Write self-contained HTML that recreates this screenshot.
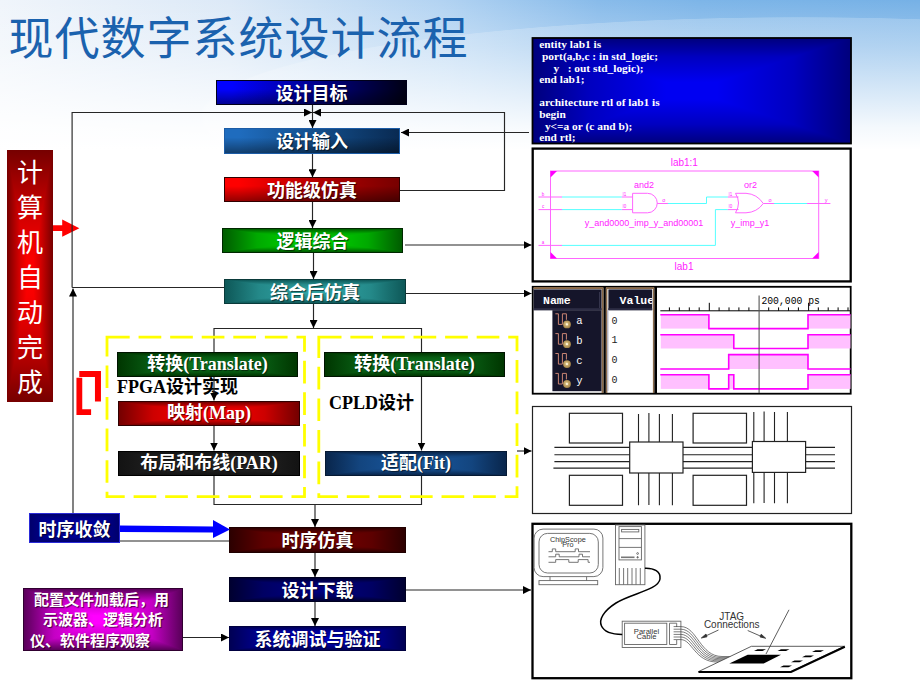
<!DOCTYPE html>
<html lang="zh">
<head>
<meta charset="utf-8">
<title>现代数字系统设计流程</title>
<style>
html,body{margin:0;padding:0}
body{width:920px;height:690px;position:relative;overflow:hidden;background:#fff;
 font-family:"Liberation Sans","Noto Sans CJK SC",sans-serif}
#bg{position:absolute;left:0;top:0;width:920px;height:150px;
 background:
  linear-gradient(to bottom,rgba(255,255,255,0) 0%,rgba(255,255,255,.28) 30%,rgba(255,255,255,.62) 60%,rgba(255,255,255,.9) 85%,#fff 100%),
  radial-gradient(ellipse 600px 100px at 800px 117px,rgba(255,255,255,.2) 0%,rgba(255,255,255,.2) 99.4%,rgba(255,255,255,0) 100%),
  linear-gradient(to right,#f0f5fb 0%,#dce9f7 25%,#b2d3f2 48%,#88bbea 65%,#7db5e8 76%,#76b1e6 100%);}
#bg2{position:absolute;left:0;top:0;width:920px;height:160px;overflow:hidden}
.title{position:absolute;left:8.5px;top:6px;font-size:45px;letter-spacing:1px;line-height:68px;color:#1b62ae;white-space:nowrap;
 font-family:"Liberation Sans","Noto Sans CJK SC",sans-serif;font-weight:400}
.bx{position:absolute;box-sizing:border-box;color:#fff;font-weight:700;font-size:18px;text-align:center;
 white-space:nowrap;text-shadow:1px 1px 1px rgba(0,0,0,.6);border:1px solid #000;overflow:hidden}
.pc{background:linear-gradient(to right,var(--a) 0%,var(--m) 19%,var(--b) 44%,var(--b) 56%,var(--m) 81%,var(--a) 100%)}
.pc::before{content:"";position:absolute;left:0;top:0;right:0;bottom:0;background:linear-gradient(to bottom,var(--a) 0%,var(--m) 19%,var(--b) 44%,var(--b) 56%,var(--m) 81%,var(--a) 100%);clip-path:polygon(0 0,100% 0,50% 50%,100% 100%,0 100%,50% 50%)}
.pk{background:linear-gradient(to right,var(--b) 0%,var(--b) 8%,var(--m) 50%,var(--a) 100%)}
.pk::before{content:"";position:absolute;left:0;top:0;right:0;bottom:0;background:linear-gradient(to bottom,rgba(0,0,0,0) 0%,rgba(0,0,0,0) 35%,rgba(0,0,0,.42) 100%)}
.bx span{position:relative;display:block;top:2px}
.bx.ser span{top:0}
.ser{font-family:"Liberation Serif","Noto Sans CJK SC",serif}
.lbl{position:absolute;color:#000;font-weight:700;font-size:18px;white-space:nowrap;
 font-family:"Liberation Serif","Noto Sans CJK SC",serif}
svg{position:absolute;left:0;top:0}
</style>
</head>
<body>
<div id="bg"></div>
<div class="title">现代数字系统设计流程</div>

<!-- main flow boxes -->
<div class="bx pk" style="left:216px;top:80px;width:191px;height:25px;line-height:22px;border-color:#00001a;--b:#0202ff;--m:#000092;--a:#000014"><span>设计目标</span></div>
<div class="bx pk" style="left:224px;top:128px;width:176px;height:26px;line-height:23px;border-color:#1c5ca6;--b:#1f6cbe;--m:#14508e;--a:#092a52"><span>设计输入</span></div>
<div class="bx pk" style="left:224px;top:177px;width:176px;height:25px;line-height:22px;border-color:#300000;--b:#ff0000;--m:#b80000;--a:#780000"><span>功能级仿真</span></div>
<div class="bx pc" style="left:222px;top:228px;width:181px;height:25px;line-height:22px;border-color:#002800;--b:#00d400;--m:#00a900;--a:#005c00"><span>逻辑综合</span></div>
<div class="bx pc" style="left:224px;top:279px;width:182px;height:25px;line-height:22px;border-color:#0a3a3a;--b:#30a4a4;--m:#248989;--a:#0e5858"><span>综合后仿真</span></div>
<div class="bx pc" style="left:229px;top:527px;width:177px;height:26px;line-height:23px;border-color:#200000;--b:#780000;--m:#5d0000;--a:#2c0000"><span>时序仿真</span></div>
<div class="bx pc" style="left:229px;top:577px;width:177px;height:25px;line-height:22px;border-color:#000020;--b:#000080;--m:#000063;--a:#000030"><span>设计下载</span></div>
<div class="bx pc" style="left:229px;top:626px;width:177px;height:25px;line-height:22px;border-color:#000040;--b:#0000bc;--m:#000097;--a:#000054"><span>系统调试与验证</span></div>

<!-- FPGA / CPLD columns -->
<div class="bx ser pc" style="left:117px;top:352px;width:181px;height:25px;line-height:23px;border-color:#001400;--b:#0c721e;--m:#085c13;--a:#003600"><span>转换(Translate)</span></div>
<div class="bx ser pc" style="left:118px;top:401px;width:182px;height:25px;line-height:23px;border-color:#300000;--b:#ff0000;--m:#cd0000;--a:#740000"><span>映射(Map)</span></div>
<div class="bx ser pc" style="left:118px;top:451px;width:182px;height:25px;line-height:23px;border-color:#000;--b:#262626;--m:#1f1f1f;--a:#131313"><span>布局和布线(PAR)</span></div>
<div class="bx ser pc" style="left:324px;top:352px;width:181px;height:25px;line-height:23px;border-color:#001400;--b:#0c721e;--m:#085c13;--a:#003600"><span>转换(Translate)</span></div>
<div class="bx ser pc" style="left:325px;top:451px;width:182px;height:25px;line-height:23px;border-color:#061a34;--b:#18569c;--m:#13457f;--a:#09264c"><span>适配(Fit)</span></div>

<div class="lbl" style="left:117px;top:375px;line-height:24px">FPGA设计实现</div>
<div class="lbl" style="left:329px;top:391px;line-height:24px">CPLD设计</div>

<!-- left red vertical box -->
<div style="position:absolute;left:7px;top:150px;width:46px;height:252px;
 background:linear-gradient(to right,#760000 0%,#960000 9%,#d40000 27%,#f80000 42%,#ff0000 50%,#f80000 58%,#d40000 73%,#960000 91%,#760000 100%)"></div>
<div style="position:absolute;left:7px;top:150px;width:46px;height:252px;
 clip-path:polygon(0 0,100% 0,50% 50%,100% 100%,0 100%,50% 50%);
 background:linear-gradient(to bottom,#760000 0%,#960000 9%,#d40000 27%,#f80000 42%,#ff0000 50%,#f80000 58%,#d40000 73%,#960000 91%,#760000 100%)"></div>
<div style="position:absolute;left:7px;top:150px;width:46px;height:252px;
 color:#fff;font-size:26px;line-height:35px;text-align:center;font-weight:400;padding-top:6px;box-sizing:border-box">计<br>算<br>机<br>自<br>动<br>完<br>成</div>

<!-- 时序收敛 -->
<div class="bx pc" style="left:29px;top:513px;width:91px;height:30px;line-height:28px;border:1.5px solid #2a2ad8;--b:#0000a4;--m:#000090;--a:#00006c"><span>时序收敛</span></div>

<!-- purple note -->
<div class="bx pc" style="left:23px;top:588px;width:160px;height:63px;border-color:#300030;font-size:15px;line-height:20.5px;--b:#ff00ff;--m:#c400c4;--a:#5a005a">
 <span style="position:absolute;left:10px;top:1px">配置文件加载后，用</span>
 <span style="position:absolute;left:19px;top:21px">示波器、逻辑分析</span>
 <span style="position:absolute;left:6px;top:42px">仪、软件程序观察</span>
</div>

<!--LINES-START-->
<svg width="920" height="690" viewBox="0 0 920 690" style="z-index:1">
<defs>
 <marker id="ah" viewBox="0 0 8 8" refX="8" refY="4" markerWidth="8" markerHeight="8" markerUnits="userSpaceOnUse" orient="auto"><path d="M0,0 L8,4 L0,8 Z" fill="#000"/></marker>
</defs>
<!-- red arrow -->
<path d="M53,225.3 H62.2 V219.6 L79.4,228.2 L62.2,236.8 V231 H53 Z" fill="#ff0000"/>
<g fill="none" stroke="#262626" stroke-width="1.15">
 <!-- left feedback loop -->
 <path d="M72.1,287.5 V112.5 H312" marker-end="url(#ah)"/>
 <path d="M72.1,287.5 H224"/>
 <path d="M73,513 V288.5" marker-end="url(#ah)"/>
 <!-- right feedback loop -->
 <path d="M400,190.5 H504.5 V112.5 H313" marker-end="url(#ah)"/>
 <!-- centre chain -->
 <path d="M312.5,105 V128" marker-end="url(#ah)"/>
 <path d="M312.5,154 V177.3" marker-end="url(#ah)"/>
 <path d="M312.5,202 V228" marker-end="url(#ah)"/>
 <path d="M313.5,253 V279" marker-end="url(#ah)"/>
 <path d="M313.5,304 V328" marker-end="url(#ah)"/>
 <path d="M214,352 V328.5 H421.5 V352"/>
 <path d="M421.5,377 V450.5" marker-end="url(#ah)"/>
 <path d="M214,377 V400.5" marker-end="url(#ah)"/>
 <path d="M214,426 V450.5" marker-end="url(#ah)"/>
 <path d="M214,476 V504.5 H421.5 V476"/>
 <path d="M315,504.5 V527" marker-end="url(#ah)"/>
 <path d="M315,553 V577" marker-end="url(#ah)"/>
 <path d="M315,602 V626" marker-end="url(#ah)"/>
 <!-- to/from right panels -->
 <path d="M529,132.5 H401" marker-end="url(#ah)"/>
 <path d="M405,245 H531.5" marker-end="url(#ah)"/>
 <path d="M406,293.5 H531.5" marker-end="url(#ah)"/>
 <path d="M517,451 H531.5" marker-end="url(#ah)"/>
 <path d="M406,590 H531" marker-end="url(#ah)"/>
 <path d="M183,637.5 H229" marker-end="url(#ah)"/>
 <path d="M229,541 H120"/>
</g>
<!-- yellow dashed groups -->
<g fill="none" stroke="#ffff00" stroke-width="2.8" stroke-dasharray="22.7 8.875">
 <rect x="107" y="337.2" width="197.5" height="159.5"/>
 <rect x="318.8" y="337.2" width="198.2" height="159.5"/>
</g>
<!-- blue arrow -->
<path d="M120,525.5 L213,526.5 L213,520 L230,529.5 L213,538 L213,532.5 L120,532 Z" fill="#0000ff"/>
<!-- red bracket -->
<path d="M79.35,377.8 V412.05 H91.1" fill="none" stroke="#ff0000" stroke-width="5.8"/>
<path d="M79.3,374 H97.95 V401.6" fill="none" stroke="#ff0000" stroke-width="6"/>
</svg>
<!--LINES-END-->
<!--PANELS-START-->
<svg width="920" height="690" viewBox="0 0 920 690" style="z-index:2">
<defs>
 <linearGradient id="gch" x1="0" x2="1" y1="0" y2="0"><stop offset="0" stop-color="#00007c"/><stop offset="0.18" stop-color="#0000c0"/><stop offset="0.42" stop-color="#0000f2"/><stop offset="0.58" stop-color="#0000f2"/><stop offset="0.82" stop-color="#0000c0"/><stop offset="1" stop-color="#00007c"/></linearGradient>
 <linearGradient id="gcv" x1="0" x2="0" y1="0" y2="1"><stop offset="0" stop-color="#00007c"/><stop offset="0.18" stop-color="#0000c0"/><stop offset="0.42" stop-color="#0000f2"/><stop offset="0.58" stop-color="#0000f2"/><stop offset="0.82" stop-color="#0000c0"/><stop offset="1" stop-color="#00007c"/></linearGradient>
</defs>
<!-- ===== VHDL code box ===== -->
<rect x="532.5" y="38" width="318.5" height="105.5" fill="url(#gch)"/>
<path d="M532.5,38 H851 L691.75,90.75 Z M532.5,143.5 H851 L691.75,90.75 Z" fill="url(#gcv)"/>
<rect x="532.5" y="38" width="318.5" height="105.5" fill="none" stroke="#000" stroke-width="1.8"/>
<g font-family="'Liberation Serif',serif" font-weight="700" font-size="11.4" fill="#fff" xml:space="preserve">
 <text x="539.2" y="48.4">entity lab1 is</text>
 <text x="539.2" y="60">&#160;port(a,b,c : in std_logic;</text>
 <text x="539.2" y="71.6">&#160;&#160;&#160;&#160;&#160;y&#160;&#160; : out std_logic);</text>
 <text x="539.2" y="83.2">end lab1;</text>
 <text x="539.2" y="106.4">architecture rtl of lab1 is</text>
 <text x="539.2" y="118">begin</text>
 <text x="539.2" y="129.6">&#160;&#160;y&lt;=a or (c and b);</text>
 <text x="539.2" y="141.2">end rtl;</text>
</g>

<!-- ===== schematic ===== -->
<rect x="532.7" y="148.6" width="318" height="132.8" fill="#fff" stroke="#000" stroke-width="2.3"/>
<g fill="none" stroke="#ff66ff" stroke-width="1">
 <rect x="550.5" y="171" width="268.2" height="87.5"/>
 <!-- input stubs -->
 <path d="M538.5,197 H562 M538.5,209.6 H562 M538.5,245.4 H562"/>
 <!-- and gate -->
 <path d="M621.7,197 H632.6 M621.7,209.6 H632.6"/>
 <path d="M632.6,193.3 H647.5 A9.75,9.75 0 0 1 647.5,212.8 H632.6 Z"/>
 <path d="M657.2,203.5 H668"/>
 <!-- or gate -->
 <path d="M727.8,197 H738.5 M727.8,209.6 H738.5"/>
 <path d="M735.5,193.3 H746 Q757,194 763.3,203.5 Q757,212.3 746,212.8 H735.5 Q741.5,203 735.5,193.3 Z"/>
 <path d="M763.3,203.5 H774 M807,203.5 H830.4"/>
</g>
<g fill="#ff00ff">
 <path d="M550.5,171 h6.5 l-6.5,6.5 z"/>
 <path d="M550.5,258.5 h6.5 l-6.5,-6.5 z"/>
 <path d="M818.7,171 h-6.5 l6.5,6.5 z"/>
 <path d="M818.7,258.5 h-6.5 l6.5,-6.5 z"/>
</g>
<g fill="none" stroke="#55ffff" stroke-width="1">
 <path d="M562,197 H621.7 M562,209.6 H621.7"/>
 <path d="M668,203.5 H706.5 V197 H727.8"/>
 <path d="M562,245.4 H715.4 V209.6 H727.8"/>
 <path d="M774,203.5 H807"/>
</g>
<g font-family="'Liberation Sans',sans-serif" fill="#ff22ff" text-anchor="middle">
 <text x="684.3" y="166.3" font-size="10">lab1:1</text>
 <text x="684" y="270" font-size="10">lab1</text>
 <text x="644" y="188.2" font-size="9">and2</text>
 <text x="750.6" y="188.2" font-size="9">or2</text>
 <text x="644" y="225.5" font-size="9">y_and0000_imp_y_and00001</text>
 <text x="750" y="225.5" font-size="9">y_imp_y1</text>
 <text x="543" y="195.6" font-size="4.5">b</text>
 <text x="543" y="208.2" font-size="4.5">c</text>
 <text x="543" y="244" font-size="4.5">a</text>
 <text x="624.5" y="195.6" font-size="4.5">I1</text>
 <text x="624.5" y="208.2" font-size="4.5">I0</text>
 <text x="730.5" y="195.6" font-size="4.5">I1</text>
 <text x="730.5" y="208.2" font-size="4.5">I0</text>
 <text x="663.7" y="201.5" font-size="5.5">o</text>
 <text x="770" y="201.5" font-size="5.5">o</text>
 <text x="826" y="202" font-size="5.5">y</text>
</g>
<!-- ===== waveform panel ===== -->
<rect x="532.7" y="286.8" width="318" height="106.9" fill="#fff" stroke="#000" stroke-width="1.8"/>
<!-- brown frames -->
<path d="M533.6,288.1 H603.3 M602.6,287.1 V393" stroke="#8a6a4a" stroke-width="2" fill="none"/>
<path d="M606,288.1 H654.3 M606.6,287.1 V393 M653.7,287.1 V393" stroke="#8a6a4a" stroke-width="1.6" fill="none"/>
<rect x="603.6" y="287" width="2.2" height="106.5" fill="#000"/>
<rect x="654.4" y="287" width="2.6" height="106.5" fill="#000"/>
<!-- name panel -->
<rect x="533.6" y="289.4" width="67.9" height="20.8" fill="#15152a"/>
<rect x="533.6" y="308.2" width="67.9" height="2" fill="#2c2c44"/>
<rect x="599.2" y="292" width="0.8" height="16" fill="#3c3c56"/>
<rect x="552.4" y="310.2" width="49.1" height="81" fill="#15152a"/>
<!-- value panel -->
<rect x="608.4" y="289.4" width="43.8" height="20.8" fill="#15152a"/>
<rect x="608.4" y="308.2" width="43.8" height="2" fill="#2c2c44"/>
<rect x="607.4" y="310.2" width="1" height="81" fill="#a8a8c0"/>
<g font-family="'Liberation Mono','Noto Sans Mono CJK SC',monospace" font-size="11.5" fill="#fff">
 <text x="543" y="303.9" font-weight="700">Name</text>
 <clipPath id="cv"><rect x="608.4" y="289.4" width="43.8" height="21"/></clipPath>
 <text x="619.6" y="303.9" font-weight="700" clip-path="url(#cv)">Value</text>
 <text x="576.3" y="324.2" font-size="10.5">a</text>
 <text x="576.3" y="344" font-size="10.5">b</text>
 <text x="576.3" y="364" font-size="10.5">c</text>
 <text x="576.3" y="384" font-size="10.5">y</text>
</g>
<g font-family="'Liberation Mono','Noto Sans Mono CJK SC',monospace" font-size="10" fill="#222">
 <text x="611.6" y="323.6">0</text>
 <text x="611.6" y="343.4">1</text>
 <text x="611.6" y="363.4">0</text>
 <text x="611.6" y="383.4">0</text>
</g>
<!-- icons -->
<defs>
 <radialGradient id="gold" cx="0.45" cy="0.45" r="0.6"><stop offset="0" stop-color="#f4e8b8"/><stop offset="0.35" stop-color="#cdb070"/><stop offset="1" stop-color="#9a7a40"/></radialGradient>
 <g id="wico">
  <path d="M0,0 H3 V10.6 H7 V0 H11 V6" fill="none" stroke="#c98474" stroke-width="1"/>
  <circle cx="11.6" cy="10.6" r="3.9" fill="url(#gold)"/>
  <circle cx="11.6" cy="10.6" r="1.1" fill="#fff6d8"/>
 </g>
</defs>
<use href="#wico" x="555.4" y="313.8"/>
<use href="#wico" x="555.4" y="333.6"/>
<use href="#wico" x="555.4" y="353.5"/>
<use href="#wico" x="555.4" y="373.4"/>
<!-- ruler -->
<g stroke="#000" stroke-width="1" fill="none">
 <path d="M660.3,310.8 H850.5"/>
 <path d="M669.4,307.4 V310.8 M679.3,307.4 V310.8 M689.3,307.4 V310.8 M699.2,307.4 V310.8 M709.3,302.8 V310.8 M719.1,307.4 V310.8 M729,307.4 V310.8 M738.9,307.4 V310.8 M748.9,307.4 V310.8 M768.7,307.4 V310.8 M778.6,307.4 V310.8 M788.5,307.4 V310.8 M798.4,307.4 V310.8 M808.6,302.8 V310.8 M818.3,307.4 V310.8 M828.2,307.4 V310.8 M838.1,307.4 V310.8 M848,307.4 V310.8"/>
</g>
<text x="761.4" y="303.8" font-family="'Liberation Mono',monospace" font-size="10" fill="#000" textLength="58.5" lengthAdjust="spacingAndGlyphs">200,000 ps</text>
<!-- waveforms -->
<g fill="#ffc0ff" stroke="none">
 <rect x="660.8" y="314.7" width="48.1" height="13.9"/><rect x="808" y="314.7" width="42.5" height="13.9"/>
 <rect x="660.8" y="334.8" width="73" height="13.7"/><rect x="808" y="334.8" width="42.5" height="13.7"/>
 <rect x="728.7" y="354.6" width="79.3" height="14.4"/>
 <rect x="660.8" y="374.7" width="48.1" height="14.2"/><rect x="728.7" y="374.7" width="5.1" height="14.2"/><rect x="808" y="374.7" width="42.5" height="14.2"/>
</g>
<g fill="none" stroke="#ff00ff" stroke-width="1.6" stroke-linejoin="miter">
 <path d="M660.3,314.7 H708.9 V328.6 H808 V314.7 H850.5"/>
 <path d="M660.3,334.8 H733.8 V348.5 H808 V334.8 H850.5"/>
 <path d="M660.3,369 H728.7 V354.6 H808 V369 H850.5"/>
 <path d="M660.3,374.7 H708.9 V388.9 H728.7 V374.7 H733.8 V388.9 H808 V374.7 H850.5"/>
</g>
<path d="M759.1,295.5 V393" stroke="#555" stroke-width="1.1" fill="none"/>

<!-- ===== FPGA routing ===== -->
<rect x="532.5" y="406.5" width="319" height="107" fill="#fff" stroke="#222" stroke-width="1.2"/>
<g fill="none" stroke="#222" stroke-width="1.1">
 <path d="M554.4,447.4 H835 M554.4,454.8 H835 M554.4,461.6 H835 M553.4,468.1 H835"/>
 <path d="M638.5,414 V505.3 M648.9,413 V505 M659.4,414 V505.3 M672.4,414 V505.3"/>
 <path d="M753.8,412 V503.3 M764.1,411.5 V503 M774.5,412 V503.3 M787.4,412 V503.3"/>
</g>
<g fill="#fff" stroke="#222" stroke-width="1.2">
 <rect x="569.4" y="413.3" width="53.1" height="29.7"/>
 <rect x="569.4" y="475.3" width="53.1" height="30"/>
 <rect x="693.1" y="413.3" width="53.4" height="29.7"/>
 <rect x="693.1" y="475.3" width="53.4" height="30"/>
 <rect x="629.7" y="442" width="53.3" height="31"/>
 <rect x="752.4" y="441.5" width="53.2" height="30.9"/>
</g>

<!-- ===== JTAG / ChipScope ===== -->
<rect x="532.5" y="523.8" width="318.8" height="154.4" fill="#fff" stroke="#000" stroke-width="2.3"/>
<g fill="none" stroke="#666" stroke-width="0.9">
 <!-- monitor -->
 <rect x="534.1" y="529.1" width="68.8" height="47.5" rx="9" ry="9"/>
 <rect x="539" y="533.4" width="59.3" height="39.6" rx="8.5" ry="8.5"/>
 <path d="M550,576.6 V580.6 M586.6,576.6 V580.6"/>
 <rect x="539" y="580.6" width="58.7" height="4.1"/>
 <path d="M548.5,551.7 H552.3 V548.9 H555.7 V551.7 H575.2 V548.9 H578.5 V551.7 H590"/>
 <path d="M548.5,556.8 H555.7 V554.2 H559.2 V556.8 H579 V554.2 H582.5 V556.8 H590"/>
 <path d="M548.5,562.3 H555.7 V559.6 H568.8 V562.3 H578.2 V559.6 H588.1 V562.3 H590"/>
 <!-- tower -->
 <rect x="615.5" y="525" width="29.4" height="59.7"/>
 <rect x="619" y="526.6" width="22.4" height="33.3"/>
 <rect x="621.6" y="529.4" width="17.2" height="2.5"/>
 <path d="M619,538.6 H641.4 M619,547.4 H641.4"/>
 <path d="M621,557.3 H634.5" stroke-width="1.6" stroke="#777"/>
 <circle cx="637.6" cy="553.5" r="0.9"/><circle cx="637.6" cy="557.3" r="0.7" fill="#555"/>
 <path d="M619.3,568 V584.7 M623.6,568 V584.7 M627.7,568 V584.7 M632,568 V584.7 M636,568 V584.7 M640.3,568 V584.7"/>
 <!-- parallel cable box -->
 <rect x="622.2" y="621.2" width="58.7" height="26.3"/>
 <rect x="624.6" y="623.2" width="42.2" height="21.3"/>
 <path d="M676.7,627 V623.2 H669.5 V644.5 H676.7 V640"/>
</g>
<!-- black cable -->
<path d="M644.9,568.3 C654,568 661,571.5 660,579 C658.5,590 631,593.5 616,603 C603.5,611 598.5,619.5 601.5,626 C604.5,632.5 613,634.4 622.2,634.4" fill="none" stroke="#000" stroke-width="1.5"/>
<!-- ribbon wires -->
<g fill="none" stroke="#444" stroke-width="0.7">
 <path d="M673.6,626.6 H681 C697,626.6 700,656.5 722,656.5 H743"/>
 <path d="M673.6,629.2 H681 C696,629.2 699,657.6 721,657.6 H742"/>
 <path d="M673.6,631.8 H681 C695,631.8 698,658.7 720,658.7 H741"/>
 <path d="M673.6,634.4 H681 C694,634.4 697,659.8 719,659.8 H740"/>
 <path d="M673.6,637 H681 C693,637 696,660.9 718,660.9 H738"/>
 <path d="M673.6,639.6 H681 C692,639.6 695,662 717,662 H736"/>
</g>
<!-- board -->
<path d="M698.5,671.6 L751.4,646.3 L844.5,646.3 L790.8,671.6 Z" fill="#fff" stroke="#333" stroke-width="0.8"/>
<path d="M698.5,672 H791 L844.8,646.8" fill="none" stroke="#000" stroke-width="2.2"/>
<g fill="#000">
 <path d="M729.3,663.5 L747.7,654.7 H781 L763.7,663.5 Z"/>
 <path d="M754,651 l3.5,-1.8 h8.5 l-3.5,1.8 z"/>
 <path d="M777.5,651 l3.5,-1.8 h8.5 l-3.5,1.8 z"/>
 <path d="M812,652 l3.5,-1.8 h8.5 l-3.5,1.8 z"/>
 <path d="M802,657.3 l3.5,-1.8 h8.5 l-3.5,1.8 z"/>
 <path d="M791,662.2 l3.5,-1.8 h8.5 l-3.5,1.8 z"/>
 <path d="M780,667.2 l3.5,-1.8 h8.5 l-3.5,1.8 z"/>
</g>
<path d="M789,609.8 L766,654" stroke="#333" stroke-width="0.8" fill="none"/>
<!-- jtag arrows -->
<g stroke="#333" stroke-width="0.8" fill="#333">
 <path d="M718.5,630 L703.5,637"/><path d="M701.3,638 L706,634 L707,636.8 Z"/>
 <path d="M747.7,630.5 L763.5,637.4"/><path d="M765.7,638.3 L760,636.9 L761.2,634.2 Z"/>
</g>
<g font-family="'Liberation Sans',sans-serif" fill="#333" text-anchor="middle">
 <text x="567.9" y="541.6" font-size="7.3">ChipScope</text>
 <text x="567.9" y="546.7" font-size="7.3">Pro</text>
 <text x="646.5" y="633.5" font-size="7.6">Parallel</text>
 <text x="646.5" y="638.9" font-size="7.6">Cable</text>
 <text x="731.7" y="620" font-size="10">JTAG</text>
 <text x="731.7" y="627.6" font-size="10">Connections</text>
</g>

</svg>
<!--PANELS-END-->
</body>
</html>
